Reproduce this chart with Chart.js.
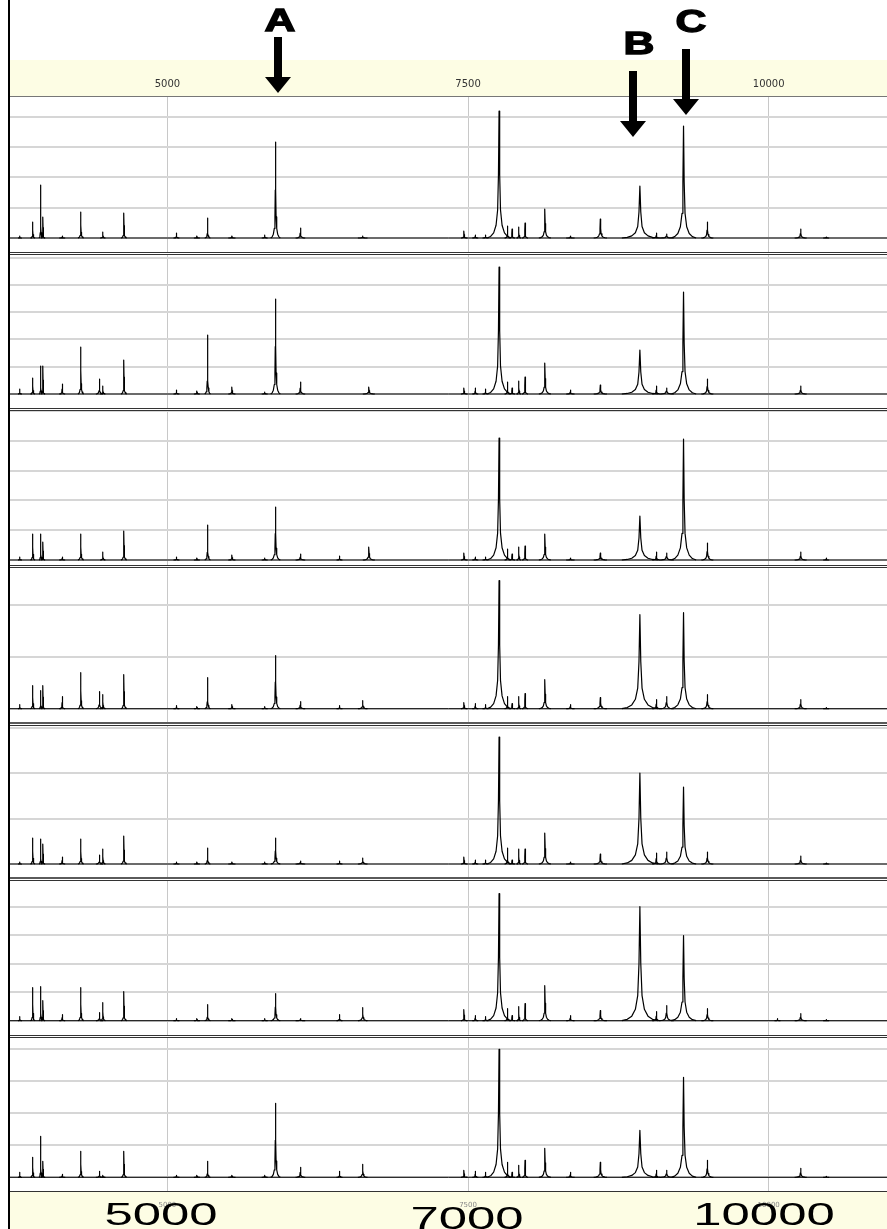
<!DOCTYPE html>
<html>
<head>
<meta charset="utf-8">
<title>Spectra</title>
<script src="https://cdn.jsdelivr.net/npm/chart.js@4.4.1/dist/chart.umd.min.js"></script>
<style>
  html, body { margin: 0; padding: 0; background: #fff; }
  body { width: 887px; height: 1229px; position: relative; overflow: hidden; font-family: "Liberation Sans", Arial, sans-serif; }
  .band { position: absolute; left: 10px; width: 877px; background: #fdfde4; }
  .panel { position: absolute; left: 10px; width: 877px; }
  .sep { position: absolute; left: 10px; width: 877px; height: 1px; background: #333; z-index: 3; }
  .sep.grey { background: #5a5a5a; height: 2px; }
  .sep.light { background: #777; }
  .frame { position: absolute; left: 8px; top: 0; width: 2px; height: 1229px; background: #000; z-index: 4; }
  .letter { position: absolute; font-size: 31px; line-height: 1; font-weight: bold; color: #000; -webkit-text-stroke: 1.3px #000; transform: translateX(-50%) scaleX(1.38); z-index: 5; }
  .big { position: absolute; font-size: 31px; line-height: 1; color: #000; transform: translateX(-50%) scaleX(1.64); z-index: 5; }
  #arrows { position: absolute; left: 0; top: 0; z-index: 5; }
</style>
</head>
<body>
<div class="frame"></div>
<div class="band" style="top:60px;height:37px"></div>
<div class="band" style="top:1192px;height:37px"></div>
<div id="panels"></div>
<svg id="arrows" width="887" height="160"></svg>
<script>
// ============================================================
// DATA
// ============================================================
const xMin = 3691;
const xMax = 10984;
const xTickValues = [5000, 7500, 10000];
const xTickLabels = ["5000", "7500", "10000"];
const bottomLabels = ["5000", "7000", "10000"];

// peak positions (m/z) and half base width (m/z)
const peakMass  = [3772, 3880, 3946, 3965, 4125, 4280, 4435, 4463, 4638, 5075, 5245, 5334, 5536, 5809, 5899, 6106, 6431, 6624, 6675, 7466, 7560, 7645, 7758, 7828, 7866, 7922, 7974, 8139, 8351, 8600, 8929, 9066, 9151, 9292, 9490, 10073, 10266, 10478];
const peakWidth = [15, 20, 14, 14, 25, 24, 30, 22, 24, 25, 25, 24, 30, 25, 40, 40, 25, 40, 50, 25, 25, 25, 100, 25, 25, 20, 25, 50, 35, 55, 150, 35, 60, 105, 50, 25, 50, 25];

// peak intensities per spectrum (a.u.)
const run1 = [2, 16, 53, 21, 2, 26, 0, 6, 25, 5, 2, 20, 2, 3, 96, 10, 0, 2, 0, 7, 3, 3, 127, 12, 9, 11, 15, 29, 2, 19, 52, 5, 4, 112, 16, 0, 9, 1];
const run2 = [5, 16, 28, 28, 10, 47, 15, 8, 34, 4, 3, 59, 7, 2, 95, 12, 0, 0, 7, 6, 6, 5, 127, 12, 6, 13, 17, 31, 4, 9, 44, 8, 6, 102, 15, 0, 8, 0];
const run3 = [3, 26, 26, 18, 3, 26, 0, 8, 29, 3, 2, 35, 5, 2, 53, 6, 4, 0, 13, 7, 3, 3, 122, 11, 6, 13, 14, 26, 2, 7, 44, 8, 7, 121, 17, 0, 8, 2];
const run4 = [4, 23, 18, 23, 12, 36, 17, 14, 34, 3, 2, 31, 4, 2, 53, 7, 3, 8, 0, 6, 5, 4, 128, 12, 5, 12, 15, 29, 4, 11, 94, 9, 12, 96, 14, 0, 9, 1];
const run5 = [2, 26, 25, 20, 7, 25, 9, 15, 28, 2, 2, 16, 2, 2, 26, 3, 3, 6, 0, 7, 4, 4, 127, 16, 4, 15, 15, 31, 2, 10, 91, 11, 12, 77, 12, 0, 8, 1];
const run6 = [4, 33, 34, 20, 6, 33, 8, 18, 29, 2, 2, 16, 2, 2, 27, 2, 6, 13, 0, 11, 5, 4, 127, 12, 5, 14, 17, 35, 5, 10, 114, 9, 15, 85, 12, 2, 7, 1];
const run7 = [5, 20, 41, 16, 3, 26, 6, 2, 26, 2, 2, 16, 2, 2, 74, 10, 6, 13, 0, 7, 6, 5, 128, 15, 5, 12, 17, 29, 5, 15, 47, 7, 7, 100, 17, 0, 9, 1];

const runs = [run1, run2, run3, run4, run5, run6, run7];

// ============================================================
// LAYOUT
// ============================================================
const panelTop    = [60, 255, 411, 568, 725, 881, 1038];
const panelHeight = [192, 153, 154, 154, 153, 154, 191];
const yMin  = [-14, -14, -5, -13.3, -14, -14.3, -13.7];
const yMax  = [141, 139, 149, 140.7, 139, 139.7, 139.3];
const yStep = [30.3, 27.3, 29.8, 52, 45.5, 28.5, 32];
const sepLines = [[96, "light"], [252, ""], [254, ""], [408, ""], [410, ""], [565, ""], [567, ""],
                  [722, "grey"], [725, ""], [877, "grey"], [880, ""], [1035, ""], [1037, ""], [1191, ""]];

// peak outline, one side from the apex (fraction of half width, fraction of height)
const PEAK_SHAPE_X = [0, 0.05, 0.12, 0.25, 0.45, 0.7, 1];
const PEAK_SHAPE_Y = [1, 0.5, 0.22, 0.1, 0.04, 0.012, 0];

Chart.defaults.font.family = "'DejaVu Sans', sans-serif";

// ============================================================
// BUILD POINTS
// ============================================================
function peakPoints(heights) {
  const pts = [];
  peakMass.forEach((m, i) => {
    const h = heights[i];
    if (!h) return;
    const w = peakWidth[i];
    for (let k = PEAK_SHAPE_X.length - 1; k > 0; k--) pts.push({ x: m - PEAK_SHAPE_X[k] * w, y: h * PEAK_SHAPE_Y[k] });
    for (let k = 0; k < PEAK_SHAPE_X.length; k++) pts.push({ x: m + PEAK_SHAPE_X[k] * w, y: h * PEAK_SHAPE_Y[k] });
    pts.push({ x: m + w, y: null });
  });
  return pts;
}

// ============================================================
// CREA PANNELLO
// ============================================================
function renderPanel(i) {
  const div = document.createElement("div");
  div.className = "panel";
  div.style.top = panelTop[i] + "px";
  div.style.height = panelHeight[i] + "px";
  const canvas = document.createElement("canvas");
  div.appendChild(canvas);
  document.getElementById("panels").appendChild(div);

  const isTop = i === 0;
  const isBottom = i === runs.length - 1;

  return new Chart(canvas.getContext("2d"), {
    type: "line",
    data: {
      datasets: [
        {
          data: [{ x: xMin, y: 0 }, { x: xMax, y: 0 }],
          borderColor: "#000",
          borderWidth: 1,
          pointRadius: 0
        },
        {
          data: peakPoints(runs[i]),
          borderColor: "#000",
          borderWidth: 1.2,
          borderJoinStyle: "round",
          pointRadius: 0,
          spanGaps: false
        }
      ]
    },
    options: {
      responsive: true,
      maintainAspectRatio: false,
      animation: false,
      layout: { padding: 0 },
      plugins: { legend: { display: false }, tooltip: { enabled: false } },
      scales: {
        x: {
          type: "linear",
          position: isTop ? "top" : "bottom",
          min: xMin,
          max: xMax,
          afterBuildTicks: (scale) => { scale.ticks = xTickValues.map(v => ({ value: v })); },
          afterFit: (scale) => { scale.height = isTop ? 37 : (isBottom ? 38 : 0); },
          ticks: {
            display: isTop || isBottom,
            callback: (v, idx) => xTickLabels[idx],
            font: { size: isTop ? 10 : 7 },
            color: isTop ? "#333" : "#888",
            padding: isTop ? 7 : 10,
            maxRotation: 0
          },
          grid: { color: "#c8c8c8", lineWidth: 1, drawTicks: false },
          border: { display: false }
        },
        y: {
          min: yMin[i],
          max: yMax[i],
          afterBuildTicks: (scale) => {
            const t = [];
            for (let v = 0; v <= yMax[i]; v += yStep[i]) t.push({ value: v });
            scale.ticks = t;
          },
          ticks: { display: false },
          grid: { color: "#d6d6d6", lineWidth: 2, drawTicks: false },
          border: { display: false }
        }
      }
    }
  });
}

runs.forEach((r, i) => renderPanel(i));

// ============================================================
// SEPARATORI
// ============================================================
sepLines.forEach(([y, cls]) => {
  const d = document.createElement("div");
  d.className = "sep " + cls;
  d.style.top = y + "px";
  document.body.appendChild(d);
});

// ============================================================
// FRECCE E LETTERE
// ============================================================
const arrowX     = [278, 633, 686];
const arrowTop   = [37, 71, 49];
const arrowTip   = [93, 137, 115];
const arrowText  = ["A", "B", "C"];
const letterX    = [280, 639, 691];
const letterTop  = [5, 28, 6];

const svg = document.getElementById("arrows");
arrowX.forEach((x, i) => {
  const head = arrowTip[i] - 16;
  const p = document.createElementNS("http://www.w3.org/2000/svg", "polygon");
  p.setAttribute("points", [
    [x - 4, arrowTop[i]], [x + 4, arrowTop[i]], [x + 4, head], [x + 13, head],
    [x, arrowTip[i]], [x - 13, head], [x - 4, head]
  ].map(q => q.join(",")).join(" "));
  p.setAttribute("fill", "#000");
  svg.appendChild(p);

  const t = document.createElement("div");
  t.className = "letter";
  t.textContent = arrowText[i];
  t.style.left = letterX[i] + "px";
  t.style.top = letterTop[i] + "px";
  document.body.appendChild(t);
});

const bigX   = [161, 467, 764];
const bigTop = [1199, 1203, 1199];
bottomLabels.forEach((txt, i) => {
  const t = document.createElement("div");
  t.className = "big";
  t.textContent = txt;
  t.style.left = bigX[i] + "px";
  t.style.top = bigTop[i] + "px";
  document.body.appendChild(t);
});
</script>
</body>
</html>
